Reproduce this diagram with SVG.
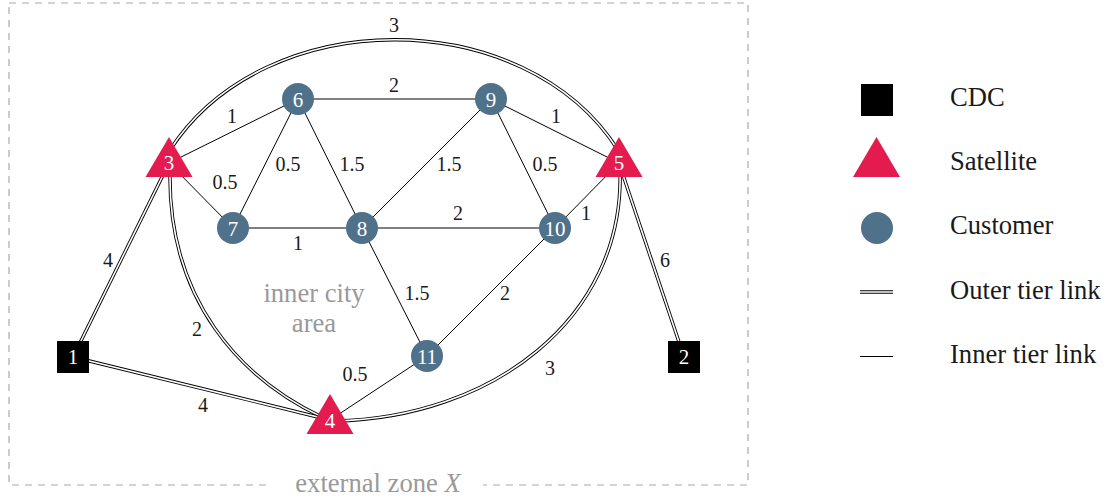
<svg xmlns="http://www.w3.org/2000/svg" width="1114" height="498" viewBox="0 0 1114 498">
<style>
  .ob{fill:none;stroke:#000;stroke-width:3.4}
  .ow{fill:none;stroke:#fff;stroke-width:1.6}
  .in{fill:none;stroke:#000;stroke-width:1}
  .lbl{font-family:"Liberation Serif","Times New Roman",serif;font-size:20px;fill:#1a1a1a;text-anchor:middle}
  .nl{font-family:"Liberation Serif","Times New Roman",serif;font-size:21px;fill:#fff;text-anchor:middle}
  .big{font-family:"Liberation Serif","Times New Roman",serif;font-size:26.6px;fill:#1a1a1a}
  .gray{font-family:"Liberation Serif","Times New Roman",serif;font-size:26.6px;fill:#999;text-anchor:middle}
  .cdc{fill:#000}
  .sat{fill:#E31B4F}
  .cus{fill:#4F728A}
</style>
<rect width="1114" height="498" fill="#fff"/>
<!-- external zone -->
<g id="zone">
  <rect x="9" y="3" width="739" height="482" fill="none" stroke="#aaa" stroke-width="1.2" stroke-dasharray="7 6"/>
  <rect x="270" y="476" width="213" height="20" fill="#fff"/>
  <text class="gray" x="378" y="492">external zone <tspan font-style="italic">X</tspan></text>
  <text class="gray" x="314" y="302">inner city</text>
  <text class="gray" x="314" y="332">area</text>
</g>
<g id="connectors">
  <!-- inner tier links -->
  <line class="in" x1="169" y1="163" x2="298" y2="99"/>
  <line class="in" x1="169" y1="163" x2="233" y2="228"/>
  <line class="in" x1="298" y1="99" x2="233" y2="228"/>
  <line class="in" x1="298" y1="99" x2="362" y2="228"/>
  <line class="in" x1="298" y1="99" x2="491" y2="99"/>
  <line class="in" x1="233" y1="228" x2="362" y2="228"/>
  <line class="in" x1="362" y1="228" x2="491" y2="99"/>
  <line class="in" x1="362" y1="228" x2="555" y2="228"/>
  <line class="in" x1="491" y1="99" x2="555" y2="228"/>
  <line class="in" x1="491" y1="99" x2="619" y2="163"/>
  <line class="in" x1="555" y1="228" x2="619" y2="163"/>
  <line class="in" x1="362" y1="228" x2="427" y2="356"/>
  <line class="in" x1="555" y1="228" x2="427" y2="356"/>
  <line class="in" x1="427" y1="356" x2="330" y2="420"/>
  <!-- outer tier links -->
  <path class="ob" d="M170,150 C265,3 524,3 618,150"/>
  <path class="ow" d="M170,150 C265,3 524,3 618,150"/>
  <path class="ob" d="M170,172 C168,300 240,378 322,417"/>
  <path class="ow" d="M170,172 C168,300 240,378 322,417"/>
  <path class="ob" d="M335,421 C490,418 625,320 620,170"/>
  <path class="ow" d="M335,421 C490,418 625,320 620,170"/>
  <line class="ob" x1="169" y1="163" x2="73" y2="357"/>
  <line class="ow" x1="169" y1="163" x2="73" y2="357"/>
  <line class="ob" x1="73" y1="357" x2="330" y2="420"/>
  <line class="ow" x1="73" y1="357" x2="330" y2="420"/>
  <line class="ob" x1="619" y1="163" x2="684" y2="357"/>
  <line class="ow" x1="619" y1="163" x2="684" y2="357"/>
  <!-- labels -->
  <text class="lbl" x="394" y="32">3</text>
  <text class="lbl" x="394" y="92">2</text>
  <text class="lbl" x="232" y="123">1</text>
  <text class="lbl" x="556" y="123">1</text>
  <text class="lbl" x="288" y="171">0.5</text>
  <text class="lbl" x="352" y="171">1.5</text>
  <text class="lbl" x="449" y="171">1.5</text>
  <text class="lbl" x="545" y="171">0.5</text>
  <text class="lbl" x="225" y="189">0.5</text>
  <text class="lbl" x="458" y="220">2</text>
  <text class="lbl" x="586" y="220">1</text>
  <text class="lbl" x="298" y="250">1</text>
  <text class="lbl" x="108" y="267">4</text>
  <text class="lbl" x="665" y="267">6</text>
  <text class="lbl" x="417" y="300">1.5</text>
  <text class="lbl" x="505" y="300">2</text>
  <text class="lbl" x="197" y="336">2</text>
  <text class="lbl" x="355" y="381">0.5</text>
  <text class="lbl" x="550" y="375">3</text>
  <text class="lbl" x="203" y="412">4</text>
</g>
<!-- nodes -->
<g id="n1"><rect class="cdc" x="57" y="341" width="32" height="32"/><text class="nl" x="73" y="364">1</text></g>
<g id="n2"><rect class="cdc" x="668" y="341" width="32" height="32"/><text class="nl" x="684" y="364">2</text></g>
<g id="n3"><polygon class="sat" points="169,137 192.5,177 145.5,177"/><text class="nl" x="169" y="170">3</text></g>
<g id="n4"><polygon class="sat" points="330,394 353.5,434 306.5,434"/><text class="nl" x="330" y="428">4</text></g>
<g id="n5"><polygon class="sat" points="619,137 642.5,177 595.5,177"/><text class="nl" x="619" y="170">5</text></g>
<g id="n6"><circle class="cus" cx="298" cy="99" r="16"/><text class="nl" x="298" y="106.5">6</text></g>
<g id="n7"><circle class="cus" cx="233" cy="228" r="16"/><text class="nl" x="233" y="235.5">7</text></g>
<g id="n8"><circle class="cus" cx="362" cy="228" r="16"/><text class="nl" x="362" y="235.5">8</text></g>
<g id="n9"><circle class="cus" cx="491" cy="99" r="16"/><text class="nl" x="491" y="106.5">9</text></g>
<g id="n10"><circle class="cus" cx="555" cy="228" r="16"/><text class="nl" x="555" y="235.5">10</text></g>
<g id="n11"><circle class="cus" cx="427" cy="356" r="16"/><text class="nl" x="427" y="363.5">11</text></g>
<!-- legend -->
<g id="legend">
  <rect class="cdc" x="861" y="84" width="32" height="32"/>
  <text class="big" x="950" y="106">CDC</text>
  <polygon class="sat" points="876.5,137 900,177 853,177"/>
  <text class="big" x="950" y="170">Satellite</text>
  <circle class="cus" cx="877" cy="228" r="16"/>
  <text class="big" x="950" y="234">Customer</text>
  <line class="ob" x1="860" y1="292" x2="893" y2="292"/>
  <line class="ow" x1="860" y1="292" x2="893" y2="292"/>
  <text class="big" x="950" y="299">Outer tier link</text>
  <line class="in" x1="860" y1="356.5" x2="893" y2="356.5"/>
  <text class="big" x="950" y="363">Inner tier link</text>
</g>
</svg>
